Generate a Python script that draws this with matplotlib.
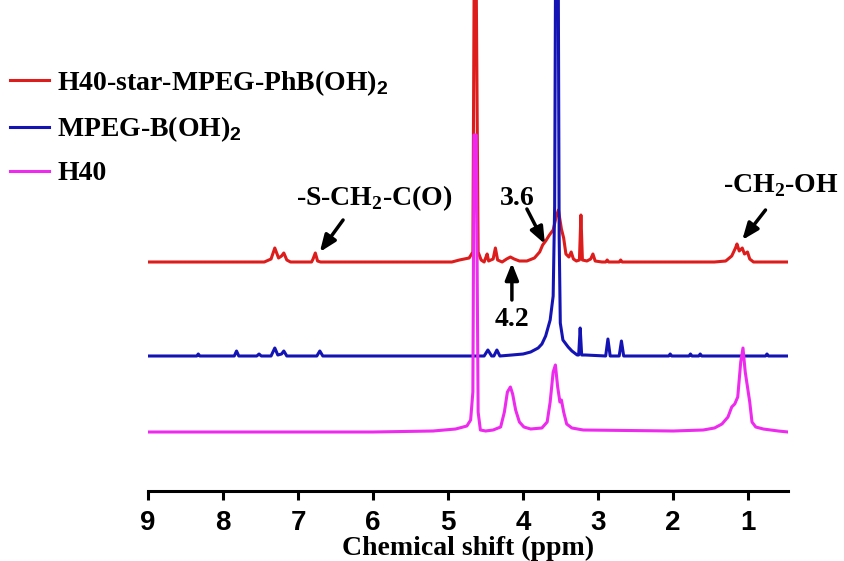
import matplotlib
matplotlib.use("Agg")
import matplotlib.pyplot as plt

plt.rcParams['mathtext.fontset'] = 'custom'
plt.rcParams['mathtext.rm'] = 'Liberation Serif:bold'
plt.rcParams['mathtext.sf'] = 'Liberation Sans:bold'

# spectra: chemical shift (ppm) and intensity above each baseline
red_ppm = [9.0, 7.45, 7.36, 7.31, 7.26, 7.22, 7.19, 7.15, 7.10, 6.82, 6.80, 6.77, 6.74, 6.70,
           4.95, 4.85, 4.72, 4.67, 4.65, 4.63, 4.60, 4.56, 4.52, 4.50, 4.48, 4.46, 4.40, 4.37,
           4.34, 4.28, 4.22, 4.17, 4.12, 4.05, 3.95, 3.85, 3.78, 3.74, 3.70, 3.65, 3.60, 3.56,
           3.53, 3.49, 3.46, 3.43, 3.39, 3.36, 3.33, 3.29, 3.25, 3.23, 3.21, 3.15, 3.10, 3.07,
           3.04, 2.95, 2.90, 2.88, 2.86, 2.72, 2.70, 2.68, 1.45, 1.30, 1.22, 1.17, 1.15, 1.12,
           1.08, 1.05, 1.01, 0.98, 0.93, 0.47]
red_int = [0, 0, 3, 14, 4, 6, 9, 2, 0, 0, 3, 9, 1, 0,
           0, 2, 4, 10, 330, 330, 10, 2, 0, 4, 8, 1, 3, 14,
           2, 0, 3, 5, 3, 1, 1, 4, 10, 17, 21, 27, 32, 45,
           52, 33, 24, 8, 5, 10, 3, 1, 2, 47, 2, 1, 3, 8,
           1, 0, 0, 2, 0, 0, 2, 0, 0, 1, 6, 14, 18, 11,
           14, 8, 10, 3, 0, 0]

blue_ppm = [9.0, 8.35, 8.33, 8.31, 7.85, 7.82, 7.79, 7.55, 7.52, 7.49, 7.36, 7.31, 7.27, 7.22,
            7.19, 7.15, 6.75, 6.71, 6.67, 4.52, 4.47, 4.42, 4.39, 4.35, 4.31, 4.15, 4.00, 3.90,
            3.80, 3.75, 3.70, 3.64, 3.60, 3.58, 3.565, 3.535, 3.52, 3.505, 3.47, 3.40, 3.35, 3.28,
            3.26, 3.24, 3.22, 3.17, 2.90, 2.87, 2.84, 2.72, 2.69, 2.66, 2.06, 2.04, 2.02, 1.79,
            1.77, 1.75, 1.66, 1.64, 1.62, 0.77, 0.75, 0.73, 0.47]
blue_int = [0, 0, 2, 0, 0, 5, 0, 0, 2, 0, 0, 8, 1, 2,
            5, 0, 0, 5, 0, 0, 6, 0, 0, 6, 0, 1, 2, 4,
            8, 12, 20, 36, 60, 150, 450, 450, 120, 33, 16, 9, 5, 1,
            1, 28, 1, 1, 0, 17, 0, 0, 15, 0, 0, 2, 0, 0,
            2, 0, 0, 2, 0, 0, 2, 0, 0]

mag_ppm = [9.0, 6.0, 5.2, 4.9, 4.75, 4.70, 4.67, 4.655, 4.625, 4.60, 4.57, 4.50, 4.40, 4.30,
           4.25, 4.21, 4.17, 4.14, 4.10, 4.05, 3.99, 3.90, 3.75, 3.68, 3.64, 3.60, 3.57, 3.54,
           3.51, 3.49, 3.46, 3.42, 3.35, 3.2, 2.0, 1.60, 1.45, 1.35, 1.27, 1.22, 1.18, 1.14,
           1.10, 1.07, 1.04, 1.01, 0.98, 0.95, 0.90, 0.80, 0.60, 0.47]
mag_int = [0, 0, 1, 3, 6, 12, 40, 297, 297, 20, 2, 1, 2, 5,
           20, 40, 45, 38, 22, 10, 5, 3, 4, 10, 30, 60, 67, 45,
           30, 32, 20, 8, 4, 2, 1, 2, 4, 8, 15, 25, 28, 35,
           70, 84, 60, 45, 30, 10, 5, 3, 1, 0]

labels = ['H40-star-MPEG-PhB(OH)$_\\mathsf{2}$', 'MPEG-B(OH)$_\\mathsf{2}$', 'H40']
ticks = [1, 2, 3, 4, 5, 6, 7, 8, 9]

# vertical offsets of the stacked traces
red_base, blue_base, mag_base = 229, 135, 59

fig = plt.figure(figsize=(8.45, 5.61), dpi=100)
ax = fig.add_axes([148 / 845, 70 / 561, 640 / 845, 491 / 561])

ax.plot(red_ppm, [red_base + v for v in red_int], color='#dd1c1c', lw=2.2, label=labels[0])
ax.plot(blue_ppm, [blue_base + v for v in blue_int], color='#1414b4', lw=2.2, label=labels[1])
ax.plot(mag_ppm, [mag_base + v for v in mag_int], color='#ee2aee', lw=2.2, label=labels[2])

ax.set_xlim(9, 0.47)
ax.set_ylim(0, 491)

for s in ['top', 'left', 'right']:
    ax.spines[s].set_visible(False)
ax.spines['bottom'].set_linewidth(2.2)
ax.set_yticks([])
ax.set_xticks(ticks)
ax.set_xticklabels([str(t) for t in ticks], family='Liberation Sans', weight='bold', fontsize=20)
ax.tick_params(axis='x', direction='out', length=6.5, width=2.2, pad=7)
ax.set_xlabel('Chemical shift (ppm)', family='Liberation Serif', weight='bold', fontsize=20, labelpad=0)

ax.legend(loc='upper left', bbox_to_anchor=(10 / 845, 1 - 68 / 561), bbox_transform=fig.transFigure,
          frameon=False, prop=dict(family='Liberation Serif', weight='bold', size=20),
          handlelength=1.4, handletextpad=0.3, labelspacing=0.6, borderpad=0, borderaxespad=0)

tfont = dict(family='Liberation Serif', weight='bold', fontsize=20, ha='center', va='center')
arrow = dict(arrowstyle='-|>,head_length=0.5,head_width=0.2', color='k', lw=2.5,
             mutation_scale=20, shrinkA=0, shrinkB=0)

ax.text(5.99, 293, '-S-CH$_\\mathrm{2}$-C(O)', **tfont)
ax.annotate('', xy=(6.71, 239), xytext=(6.40, 271), arrowprops=arrow)

ax.text(4.08, 293, '3.6', **tfont)
ax.annotate('', xy=(3.71, 247), xytext=(3.95, 282), arrowprops=arrow)

ax.text(4.15, 171, '4.2', **tfont)
ax.annotate('', xy=(4.15, 228), xytext=(4.15, 191), arrowprops=arrow)

ax.text(0.57, 305, '-CH$_\\mathrm{2}$-OH', **tfont)
ax.annotate('', xy=(1.08, 251), xytext=(0.77, 281), arrowprops=arrow)

fig.savefig('out.png', dpi=100)
